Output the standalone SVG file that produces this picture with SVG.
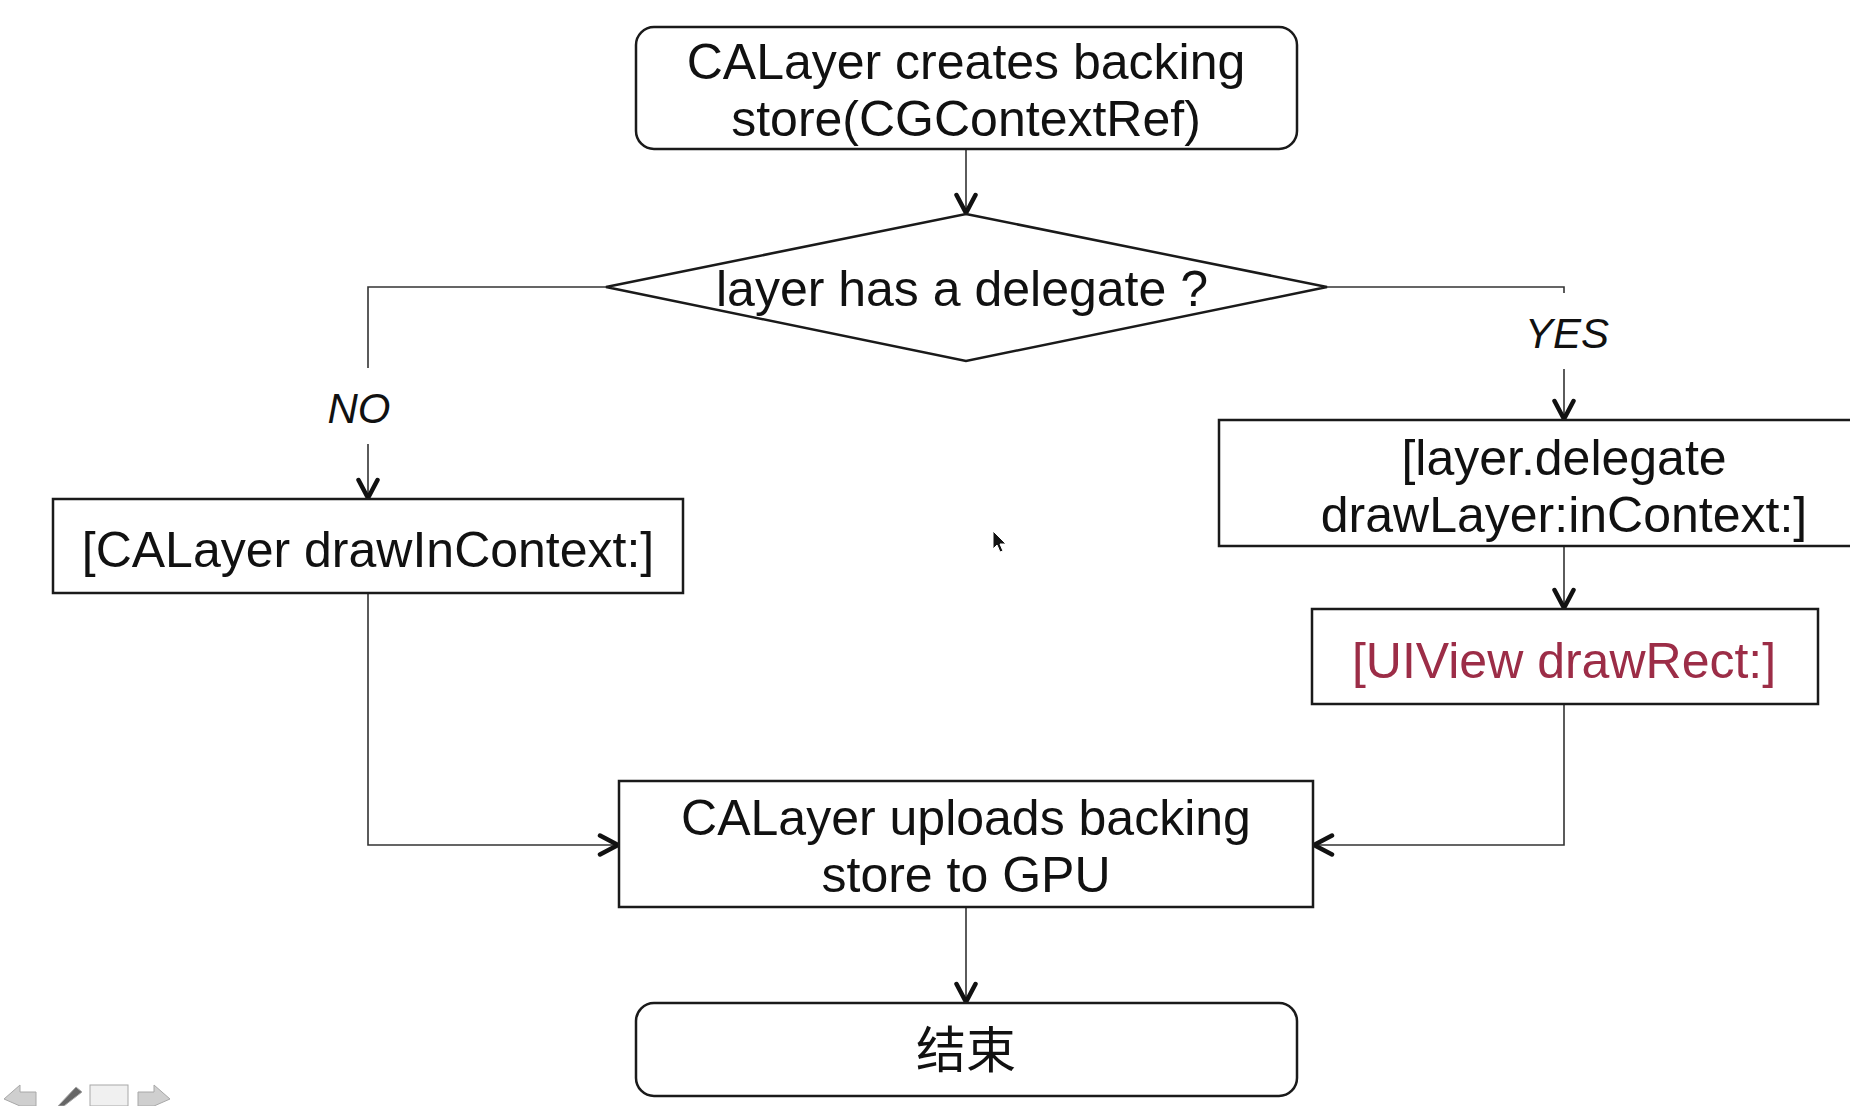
<svg xmlns="http://www.w3.org/2000/svg" width="1850" height="1106" viewBox="0 0 1850 1106">
<style>
.node{fill:#fff;stroke:#1a1a1a;stroke-width:2.5}
.t{font-family:"Liberation Sans",Arial,sans-serif;font-size:50px;fill:#111;text-anchor:middle}
.lbl{font-family:"Liberation Sans",Arial,sans-serif;font-size:42px;font-style:italic;fill:#111;text-anchor:middle}
.red{fill:#9c2d47}
.cjk{font-family:"Noto Sans CJK SC","Liberation Sans",sans-serif;font-size:50px;fill:#111;text-anchor:middle}
.conn{fill:none;stroke:#333;stroke-width:1.6}
</style>
<defs>
<marker id="arr" viewBox="0 0 24 24" refX="21" refY="12" markerWidth="24" markerHeight="24" markerUnits="userSpaceOnUse" orient="auto">
<path d="M3,2.5 L21,12 L3,21.5" fill="none" stroke="#111" stroke-width="4.5" stroke-linecap="round" stroke-linejoin="round"/>
</marker>
</defs>
<rect width="1850" height="1106" fill="#fff"/>

<g id="connectors">
<line class="conn" x1="966" y1="149" x2="966" y2="213" marker-end="url(#arr)"/>
<polyline class="conn" points="606,287 368,287 368,368"/>
<line class="conn" x1="368" y1="444" x2="368" y2="498" marker-end="url(#arr)"/>
<polyline class="conn" points="1327,287 1564,287 1564,293"/>
<line class="conn" x1="1564" y1="369" x2="1564" y2="419" marker-end="url(#arr)"/>
<line class="conn" x1="1564" y1="546" x2="1564" y2="608" marker-end="url(#arr)"/>
<polyline class="conn" points="368,593 368,845 618,845" marker-end="url(#arr)"/>
<polyline class="conn" points="1564,704 1564,845 1314,845" marker-end="url(#arr)"/>
<line class="conn" x1="966" y1="907" x2="966" y2="1002" marker-end="url(#arr)"/>
<text class="lbl" x="359" y="423">NO</text>
<text class="lbl" x="1567" y="348">YES</text>
</g>

<g id="start">
<rect class="node" x="636" y="27" width="661" height="122" rx="18"/>
<text class="t" x="966" y="79">CALayer creates backing</text>
<text class="t" x="966" y="136">store(CGContextRef)</text>
</g>

<g id="decision">
<polygon class="node" points="966,214 1327,287 966,361 606,287"/>
<text class="t" x="962" y="306">layer has a delegate ?</text>
</g>

<g id="drawInContext">
<rect class="node" x="53" y="499" width="630" height="94"/>
<text class="t" x="368" y="567">[CALayer drawInContext:]</text>
</g>

<g id="delegateDraw">
<rect class="node" x="1219" y="420" width="640" height="126"/>
<text class="t" x="1564" y="475">[layer.delegate</text>
<text class="t" x="1564" y="532">drawLayer:inContext:]</text>
</g>

<g id="drawRect">
<rect class="node" x="1312" y="609" width="506" height="95"/>
<text class="t red" x="1564" y="678">[UIView drawRect:]</text>
</g>

<g id="upload">
<rect class="node" x="619" y="781" width="694" height="126"/>
<text class="t" x="966" y="835">CALayer uploads backing</text>
<text class="t" x="966" y="892">store to GPU</text>
</g>

<g id="end">
<rect class="node" x="636" y="1003" width="661" height="93" rx="18"/>
<text class="cjk" x="966" y="1068">结束</text>
</g>

<g id="cursor">
<path d="M993,531 L993,549 L997,545 L1000,552 L1003,551 L1000,544 L1006,544 Z" fill="#111" stroke="#fff" stroke-width="1"/>
</g>

<g id="toolbar" fill="#cfcfcf" stroke="#a8a8a8" stroke-width="1">
<path d="M4,1099 L20,1085 L20,1092 L36,1092 L36,1106 L20,1106 Z"/>
<path d="M58,1106 L76,1087 L82,1092 L64,1106 Z" fill="#666"/>
<rect x="90" y="1085" width="38" height="21" fill="#f0f0f0"/>
<path d="M170,1099 L154,1085 L154,1092 L138,1092 L138,1106 L154,1106 Z"/>
</g>
</svg>
